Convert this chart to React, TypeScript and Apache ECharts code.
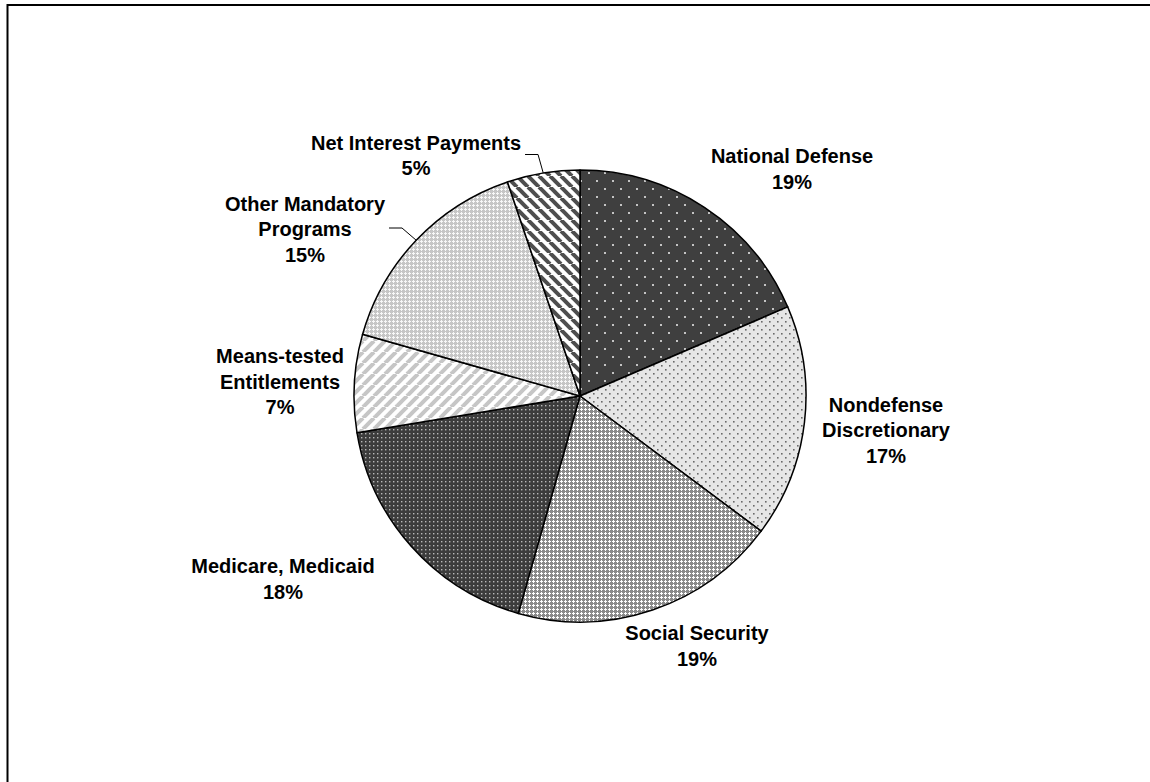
import React, { useEffect, useRef } from 'react';
import * as echarts from 'echarts';

// ---- Data ----
const categories = [
  'National Defense',
  'Nondefense Discretionary',
  'Social Security',
  'Medicare, Medicaid',
  'Means-tested Entitlements',
  'Other Mandatory Programs',
  'Net Interest Payments',
];
const labelTexts = [
  'National Defense',
  'Nondefense\nDiscretionary',
  'Social Security',
  'Medicare, Medicaid',
  'Means-tested\nEntitlements',
  'Other Mandatory\nPrograms',
  'Net Interest Payments',
];
const shares = [18.55, 16.65, 19.2, 18.0, 7.0, 15.4, 5.2];
const hasLeader = [false, false, false, false, false, true, true];

// ---- Layout / style (not data) ----
const labelPos: number[][] = [
  [792, 169],
  [886, 430],
  [697, 646],
  [283, 579],
  [280, 381.5],
  [305, 229],
  [416, 155.5],
];
const CENTER = [580, 396];
const RADIUS = 226;

function makeTile(size: number, draw: (ctx: CanvasRenderingContext2D, s: number) => void) {
  const c = document.createElement('canvas');
  c.width = size;
  c.height = size;
  const ctx = c.getContext('2d') as CanvasRenderingContext2D;
  draw(ctx, size);
  return { image: c, repeat: 'repeat', imageWidth: size, imageHeight: size } as any;
}

function dotsTile(size: number, bg: string, dot: string, pts: number[][], d: number) {
  return makeTile(size, (ctx, s) => {
    ctx.fillStyle = bg;
    ctx.fillRect(0, 0, s, s);
    ctx.fillStyle = dot;
    pts.forEach(([x, y]) => ctx.fillRect(x, y, d, d));
  });
}

function plusTile(bg: string, fg: string) {
  return makeTile(4, (ctx) => {
    ctx.fillStyle = bg;
    ctx.fillRect(0, 0, 4, 4);
    ctx.fillStyle = fg;
    ctx.fillRect(1, 0, 1, 3);
    ctx.fillRect(0, 1, 3, 1);
  });
}

function stripeTile(size: number, bg: string, fg: string, width: number, rising: boolean) {
  return makeTile(size, (ctx, s) => {
    ctx.fillStyle = bg;
    ctx.fillRect(0, 0, s, s);
    ctx.strokeStyle = fg;
    ctx.lineWidth = width;
    for (let k = -1; k <= 1; k++) {
      ctx.beginPath();
      if (rising) {
        ctx.moveTo(k * s, s);
        ctx.lineTo(k * s + s, 0);
      } else {
        ctx.moveTo(k * s, 0);
        ctx.lineTo(k * s + s, s);
      }
      ctx.stroke();
    }
  });
}

export default function App() {
  const ref = useRef<HTMLDivElement>(null);

  useEffect(() => {
    if (!ref.current) return;
    const chart = echarts.init(ref.current, null, { renderer: 'svg' });

    const fills = [
      dotsTile(16, '#3f3f3f', '#c4c4c4', [[4, 4], [12, 12]], 2),
      dotsTile(8, '#e6e6e6', '#6a6a6a', [[1, 1], [5, 5]], 1.6),
      plusTile('#8a8a8a', '#ffffff'),
      dotsTile(4, '#3c3c3c', '#b8b8b8', [[1, 1]], 1.4),
      stripeTile(11, '#ffffff', '#c6c6c6', 4, true),
      plusTile('#c6c6c6', '#f8f8f8'),
      stripeTile(11, '#ffffff', '#4e4e4e', 4, false),
    ];

    const total = shares.reduce((a, b) => a + b, 0);

    const data = categories.map((name, i) => ({
      name,
      value: shares[i],
      itemStyle: { color: fills[i] },
      labelLine: { show: hasLeader[i] },
    }));

    chart.setOption({
      animation: false,
      graphic: [
        {
          type: 'rect',
          silent: true,
          z: 100,
          shape: { x: 7.5, y: 5, width: 1300, height: 900 },
          style: { fill: 'none', stroke: '#000', lineWidth: 2 },
        },
      ],
      series: [
        {
          type: 'pie',
          center: CENTER,
          radius: RADIUS,
          startAngle: 90,
          clockwise: true,
          silent: true,
          avoidLabelOverlap: false,
          emphasis: { disabled: true },
          itemStyle: { borderColor: '#000', borderWidth: 1.5 },
          label: {
            show: true,
            position: 'outside',
            color: '#000',
            fontFamily: '"Liberation Sans", Arial, sans-serif',
            fontWeight: 'bold',
            fontSize: 20,
            lineHeight: 25.5,
            align: 'center',
            formatter: (p: any) => `${labelTexts[p.dataIndex]}\n${Math.round(p.percent)}%`,
          },
          labelLine: { show: false, lineStyle: { color: '#000', width: 1 } },
          labelLayout: (p: any) => {
            const i = p.dataIndex;
            const [x, y] = labelPos[i];
            const out: any = { x, y, align: 'center', verticalAlign: 'middle' };
            if (hasLeader[i]) {
              const before = shares.slice(0, i).reduce((a, b) => a + b, 0);
              const ang = ((before + shares[i] / 2) / total) * 2 * Math.PI;
              const edge = [CENTER[0] + RADIUS * Math.sin(ang), CENTER[1] - RADIUS * Math.cos(ang)];
              const w = p.labelRect ? p.labelRect.width : 150;
              const right = x + w / 2 + 4;
              out.labelLinePoints = [edge, [right + 13, y - 1], [right, y - 1]];
            }
            return out;
          },
          data,
        },
      ],
    });

    return () => chart.dispose();
  }, []);

  return (
    <div
      ref={ref}
      style={{ position: 'absolute', left: 0, top: 0, width: 1150, height: 782, background: '#fff' }}
    />
  );
}
